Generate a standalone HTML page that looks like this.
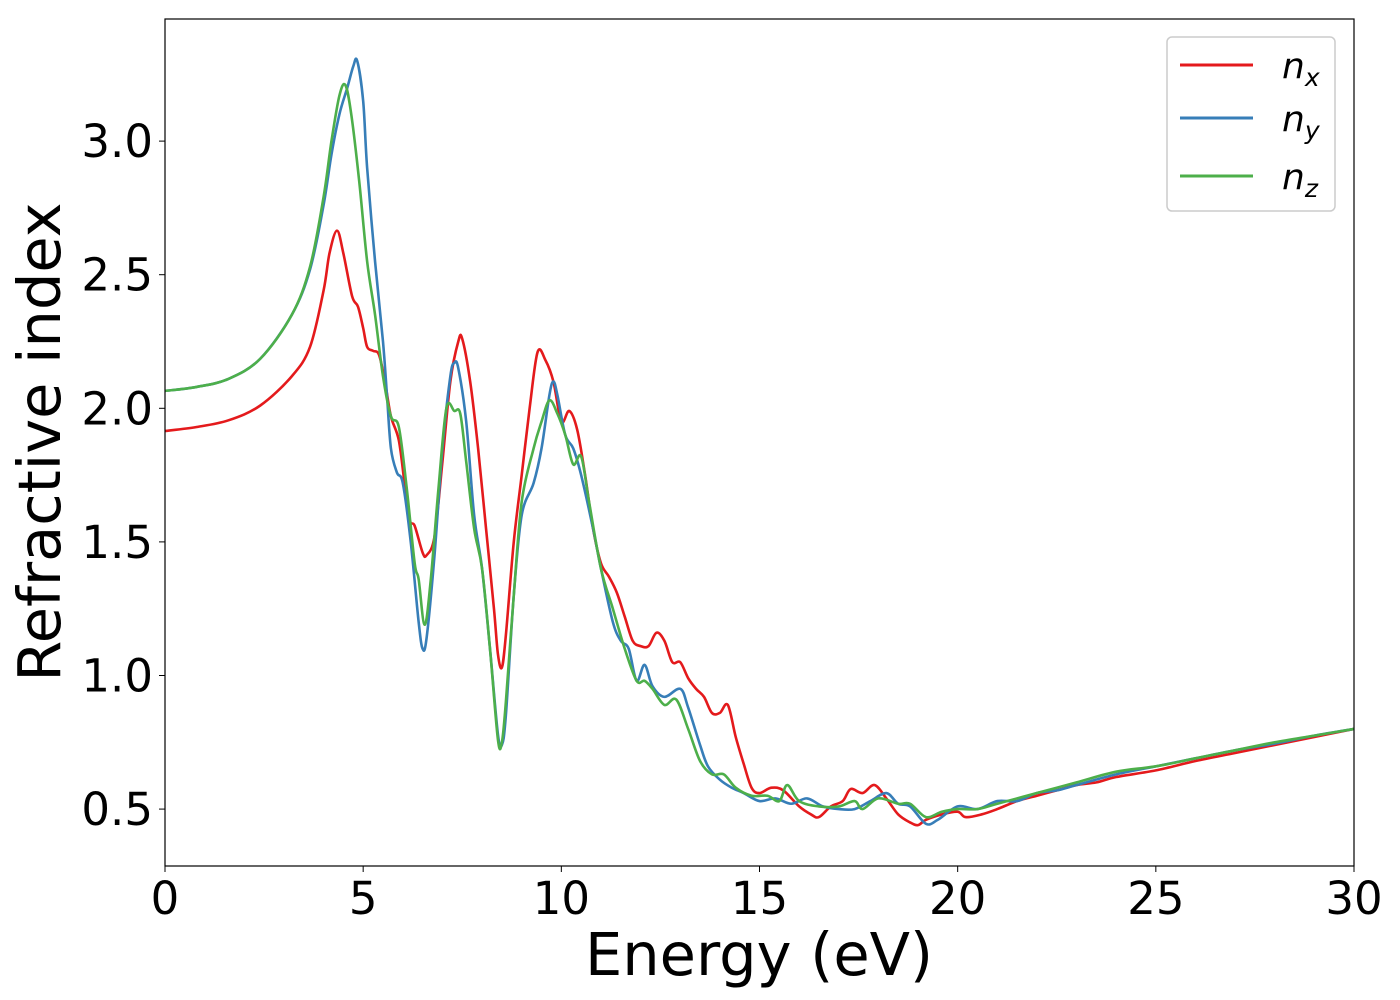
<!DOCTYPE html>
<html><head><meta charset="utf-8"><style>
body{margin:0;background:#fff}
svg{display:block}
text{font-family:"DejaVu Sans","Liberation Sans",sans-serif;fill:#000}
</style></head><body>
<svg id="chart" width="1400" height="1000">
<g id="plot"></g>
<rect x="165" y="19" width="1189" height="847" fill="none" stroke="#000" stroke-width="1.2"/>
<g id="ticks"></g>
<text x="759" y="975" font-size="59" text-anchor="middle">Energy (eV)</text>
<text transform="translate(60,442) rotate(-90)" font-size="59" text-anchor="middle">Refractive index</text>
<g>
<rect x="1167" y="37" width="168" height="174" rx="5" fill="#fff" stroke="#ccc" stroke-width="1.5"/>
<g><line x1="1180" y1="65" x2="1253" y2="65" stroke="#e41a1c" stroke-width="3"/><text x="1282" y="78" font-size="36" font-style="italic">n<tspan font-size="25" dy="8">x</tspan></text></g>
<g><line x1="1180" y1="118" x2="1253" y2="118" stroke="#377eb8" stroke-width="3"/><text x="1282" y="131" font-size="36" font-style="italic">n<tspan font-size="25" dy="8">y</tspan></text></g>
<g><line x1="1180" y1="176" x2="1253" y2="176" stroke="#4daf4a" stroke-width="3"/><text x="1282" y="189" font-size="36" font-style="italic">n<tspan font-size="25" dy="8">z</tspan></text></g>
</g>
</svg>
<script>
const xTicks=[0,5,10,15,20,25,30];
const yTicks=[0.5,1.0,1.5,2.0,2.5,3.0];
const nxE=[0,0.8,1.6,2.4,3.2,3.66,4.0,4.15,4.34,4.5,4.72,4.87,5.0,5.1,5.25,5.4,5.55,5.7,5.9,6.06,6.18,6.3,6.5,6.6,6.8,7.0,7.2,7.4,7.5,7.7,7.9,8.1,8.3,8.4,8.5,8.6,8.8,9.0,9.2,9.4,9.6,9.8,10.0,10.2,10.4,10.6,10.8,11.0,11.2,11.4,11.6,11.8,12.0,12.2,12.4,12.6,12.8,13.0,13.2,13.4,13.6,13.8,14.0,14.2,14.4,14.6,14.8,15.0,15.3,15.6,16.0,16.3,16.5,16.8,17.1,17.3,17.6,17.9,18.2,18.5,18.8,19.0,19.2,19.6,20.0,20.2,20.6,21,21.5,22,22.5,23,23.5,24,25,26,27,28,29,30];
const nxV=[1.915,1.93,1.955,2.01,2.12,2.23,2.44,2.58,2.665,2.58,2.42,2.38,2.30,2.23,2.215,2.20,2.10,1.97,1.88,1.70,1.58,1.56,1.46,1.45,1.52,1.80,2.10,2.25,2.26,2.10,1.85,1.55,1.25,1.08,1.03,1.15,1.50,1.75,2.0,2.21,2.18,2.10,1.95,1.99,1.92,1.75,1.55,1.42,1.37,1.31,1.22,1.13,1.11,1.11,1.16,1.13,1.05,1.05,0.99,0.95,0.92,0.86,0.86,0.89,0.77,0.67,0.58,0.56,0.58,0.57,0.51,0.48,0.47,0.51,0.53,0.575,0.56,0.59,0.54,0.48,0.45,0.44,0.46,0.48,0.49,0.47,0.48,0.50,0.53,0.55,0.57,0.59,0.60,0.62,0.645,0.68,0.71,0.74,0.77,0.80];
const nyE=[0,0.8,1.6,2.4,3.2,3.66,4.0,4.2,4.4,4.6,4.75,4.85,5.0,5.1,5.3,5.5,5.6,5.7,5.85,6.0,6.2,6.4,6.5,6.6,6.8,7.0,7.2,7.3,7.4,7.6,7.8,8.0,8.2,8.4,8.5,8.6,8.8,9.0,9.3,9.5,9.7,9.8,9.9,10.1,10.3,10.5,10.8,11.0,11.3,11.5,11.7,11.9,12.1,12.3,12.6,13,13.2,13.5,13.7,14.0,14.3,14.6,15.0,15.4,15.8,16.2,16.6,17.0,17.4,17.8,18.2,18.5,18.8,19.2,19.5,20,20.5,21,21.5,22,22.5,23,24,25,26,27,28,29,30];
const nyV=[2.065,2.08,2.11,2.185,2.35,2.52,2.76,2.95,3.10,3.20,3.28,3.30,3.15,2.9,2.55,2.25,2.05,1.85,1.76,1.72,1.50,1.20,1.10,1.14,1.45,1.85,2.12,2.17,2.15,1.95,1.60,1.40,1.10,0.78,0.74,0.85,1.30,1.60,1.72,1.85,2.05,2.10,2.05,1.90,1.85,1.75,1.55,1.40,1.20,1.13,1.10,0.98,1.04,0.96,0.92,0.95,0.88,0.74,0.66,0.61,0.58,0.56,0.53,0.54,0.52,0.54,0.51,0.50,0.50,0.53,0.56,0.52,0.51,0.445,0.46,0.51,0.50,0.53,0.53,0.56,0.57,0.59,0.63,0.66,0.69,0.72,0.745,0.775,0.80];
const nzE=[0,0.8,1.6,2.4,3.2,3.66,4.0,4.2,4.4,4.55,4.7,4.9,5.1,5.3,5.5,5.7,5.9,6.1,6.3,6.4,6.55,6.7,6.9,7.1,7.3,7.45,7.6,7.8,8.0,8.2,8.4,8.5,8.6,8.8,9.0,9.3,9.5,9.7,9.9,10.1,10.3,10.5,10.7,11.0,11.3,11.6,11.9,12.1,12.3,12.6,12.9,13.2,13.5,13.8,14.1,14.4,14.8,15.2,15.5,15.7,16,16.5,17,17.4,17.6,18,18.5,18.8,19.2,19.6,20,20.5,21,22,23,24,25,26,27,28,29,30];
const nzV=[2.065,2.08,2.11,2.185,2.35,2.53,2.79,3.0,3.17,3.21,3.10,2.85,2.55,2.35,2.12,1.97,1.93,1.70,1.42,1.36,1.19,1.35,1.70,2.00,1.99,1.98,1.80,1.55,1.40,1.10,0.76,0.75,0.90,1.30,1.65,1.85,1.95,2.03,1.98,1.90,1.79,1.82,1.65,1.40,1.25,1.10,0.98,0.98,0.95,0.89,0.91,0.80,0.68,0.63,0.63,0.58,0.55,0.55,0.53,0.59,0.53,0.51,0.51,0.53,0.50,0.54,0.52,0.52,0.47,0.49,0.50,0.50,0.52,0.56,0.60,0.64,0.66,0.69,0.72,0.75,0.775,0.80];

const X0=165,X1=1354,Y0=866,Y1=19,xmin=0,xmax=30,ymin=0.287,ymax=3.457;
const sx=v=>X0+(v-xmin)/(xmax-xmin)*(X1-X0);
const sy=v=>Y0-(v-ymin)/(ymax-ymin)*(Y0-Y1);
const NS='http://www.w3.org/2000/svg';
const plot=document.getElementById('plot'),ticks=document.getElementById('ticks');
function pathD(E,V){
  const p=E.map((e,i)=>[sx(e),sy(V[i])]);
  let d='M'+p[0][0]+','+p[0][1];
  for(let i=0;i<p.length-1;i++){
    const a=p[Math.max(0,i-1)],b=p[i],c=p[i+1],e=p[Math.min(p.length-1,i+2)];
    const c1=[b[0]+(c[0]-a[0])/6,b[1]+(c[1]-a[1])/6],c2=[c[0]-(e[0]-b[0])/6,c[1]-(e[1]-b[1])/6];
    d+=' C'+c1[0]+','+c1[1]+' '+c2[0]+','+c2[1]+' '+c[0]+','+c[1];
  }
  return d;
}
const series=[[nxE,nxV,'#e41a1c','series-nx'],[nyE,nyV,'#377eb8','series-ny'],[nzE,nzV,'#4daf4a','series-nz']];
series.forEach(s=>{
  const el=document.createElementNS(NS,'path');
  el.setAttribute('d',pathD(s[0],s[1]));
  el.setAttribute('fill','none');el.setAttribute('stroke',s[2]);el.setAttribute('stroke-width','2.6');
  
  
  plot.appendChild(el);
});
xTicks.forEach(t=>{
  const l=document.createElementNS(NS,'line');
  l.setAttribute('x1',sx(t));l.setAttribute('x2',sx(t));l.setAttribute('y1',Y0);l.setAttribute('y2',Y0+6);l.setAttribute('stroke','#000');
  
  
  ticks.appendChild(l);
  const tx=document.createElementNS(NS,'text');
  tx.setAttribute('x',sx(t));tx.setAttribute('y',914);tx.setAttribute('font-size','45');tx.setAttribute('text-anchor','middle');
  tx.textContent=t;
  
  
  ticks.appendChild(tx);
});
yTicks.forEach(t=>{
  const l=document.createElementNS(NS,'line');
  l.setAttribute('x1',X0-6);l.setAttribute('x2',X0);l.setAttribute('y1',sy(t));l.setAttribute('y2',sy(t));l.setAttribute('stroke','#000');
  
  
  ticks.appendChild(l);
  const tx=document.createElementNS(NS,'text');
  tx.setAttribute('x',153);tx.setAttribute('y',sy(t)+16);tx.setAttribute('font-size','45');tx.setAttribute('text-anchor','end');
  tx.textContent=t.toFixed(1);
  
  
  ticks.appendChild(tx);
});
</script>
</body></html>
